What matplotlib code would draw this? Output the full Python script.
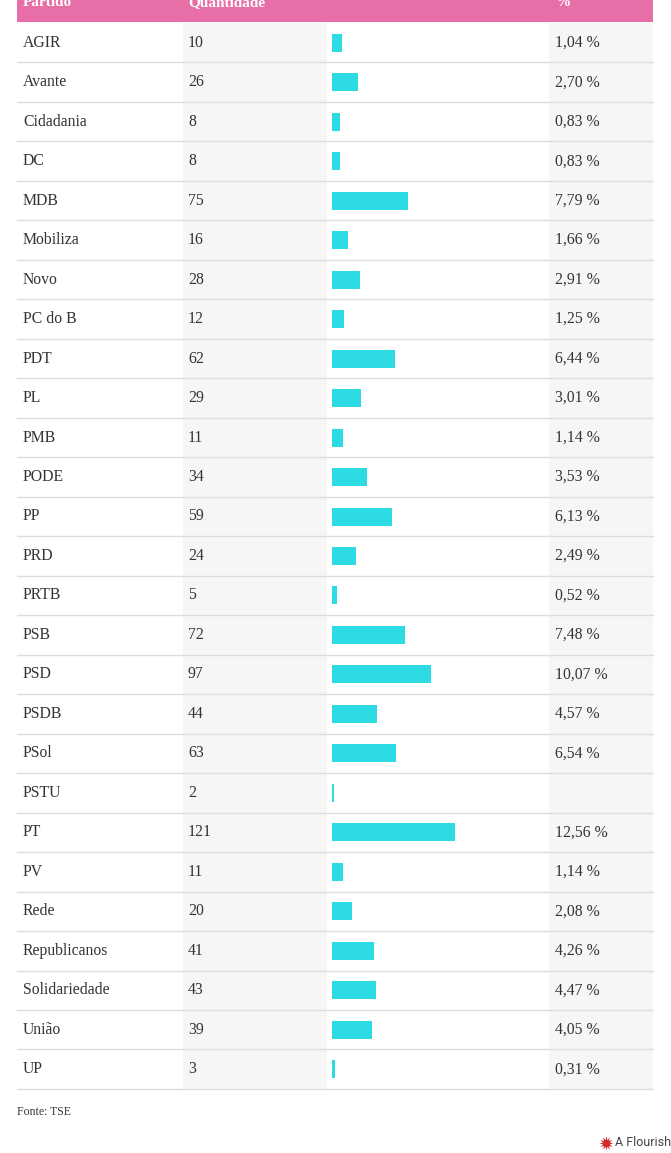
import matplotlib.pyplot as plt
from matplotlib.patches import Rectangle

partidos = ["AGIR", "Avante", "Cidadania", "DC", "MDB", "Mobiliza", "Novo", "PC do B",
            "PDT", "PL", "PMB", "PODE", "PP", "PRD", "PRTB", "PSB", "PSD", "PSDB",
            "PSol", "PSTU", "PT", "PV", "Rede", "Republicanos", "Solidariedade",
            "União", "UP"]
quantidade = [10, 26, 8, 8, 75, 16, 28, 12, 62, 29, 11, 34, 59, 24, 5, 72, 97, 44,
              63, 2, 121, 11, 20, 41, 43, 39, 3]
percentual = ["1,04 %", "2,70 %", "0,83 %", "0,83 %", "7,79 %", "1,66 %", "2,91 %",
              "1,25 %", "6,44 %", "3,01 %", "1,14 %", "3,53 %", "6,13 %", "2,49 %",
              "0,52 %", "7,48 %", "10,07 %", "4,57 %", "6,54 %", "", "12,56 %",
              "1,14 %", "2,08 %", "4,26 %", "4,47 %", "4,05 %", "0,31 %"]
colunas = ["Partido", "Quantidade", "", "%"]

W, H = 671, 1153
fig = plt.figure(figsize=(W / 100, H / 100), dpi=100)
ax = fig.add_axes([0, 0, 1, 1])
ax.set_xlim(0, W)
ax.set_ylim(H, 0)
ax.axis("off")

serif = ["Liberation Serif", "DejaVu Serif"]
txt_color = "#333333"

left, right = 17, 653
top, row_h = 23, 39.48
n = len(partidos)

# grey column backgrounds
ax.add_patch(Rectangle((183, top), 144, n * row_h, color="#f6f6f6", lw=0))
ax.add_patch(Rectangle((549, top), right - 549, n * row_h, color="#f6f6f6", lw=0))

# header (cut off at the top, like the source screenshot)
ax.add_patch(Rectangle((left, -20), right - left, 42, color="#e86ea8", lw=0))
hx = [23, 188, 332, 555]
for x, c in zip(hx, colunas):
    ax.text(x, 3, c, color="white", fontsize=11, fontweight="bold",
            family=serif, va="center", ha="left")

bar_x0, scale = 332, 1.017
for i, (p, q, pct) in enumerate(zip(partidos, quantidade, percentual)):
    yc = top + (i + 0.5) * row_h
    ax.text(23, yc, p, fontsize=11.3, family=serif, color=txt_color, va="center")
    ax.text(188, yc, str(q), fontsize=11.3, family=serif, color=txt_color, va="center")
    ax.text(555, yc, pct, fontsize=11.3, family=serif, color=txt_color, va="center")
    ax.add_patch(Rectangle((bar_x0, yc - 9), q * scale, 18, color="#2ddbe3", lw=0))
    ax.plot([left, right], [top + (i + 1) * row_h] * 2, color="#dddddd", lw=1)

ax.text(17, 1112, "Fonte: TSE", fontsize=8.5, family=serif, color=txt_color, va="center")

# flourish credit
ax.plot(606, 1143, marker=(12, 1, 0), markersize=10, color="#d42a2a", mew=0)
ax.text(615, 1143, "A Flourish data visualization", fontsize=9, family="Roboto",
        color="#444444", va="center")

fig.savefig("out.png", dpi=100)
